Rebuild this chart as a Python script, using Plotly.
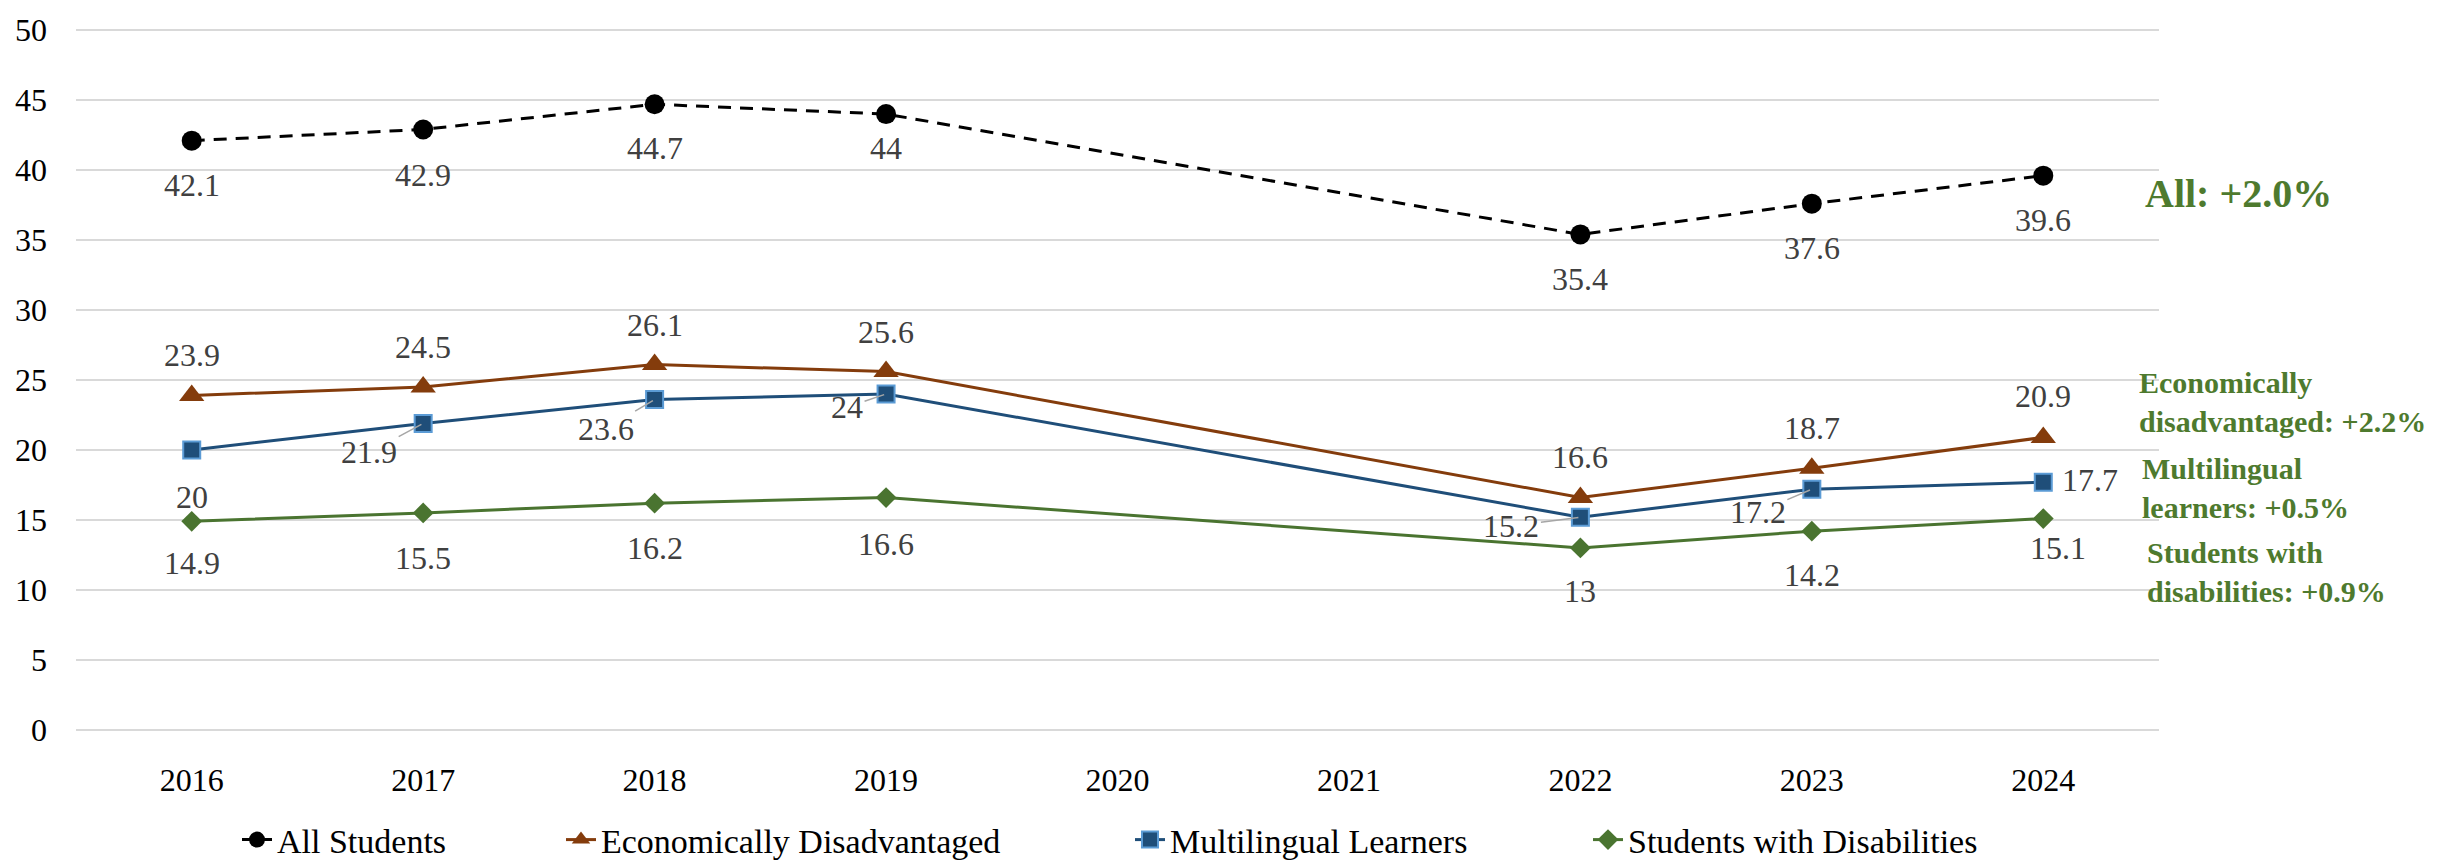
import plotly.graph_objects as go

years = [2016, 2017, 2018, 2019, 2020, 2021, 2022, 2023, 2024]
year_labels = ["2016", "2017", "2018", "2019", "2020", "2021", "2022", "2023", "2024"]
all_students = [42.1, 42.9, 44.7, 44.0, None, None, 35.4, 37.6, 39.6]
econ_disadv = [23.9, 24.5, 26.1, 25.6, None, None, 16.6, 18.7, 20.9]
multilingual = [20.0, 21.9, 23.6, 24.0, None, None, 15.2, 17.2, 17.7]
disabilities = [14.9, 15.5, 16.2, 16.6, None, None, 13.0, 14.2, 15.1]

series_names = ["All Students", "Economically Disadvantaged",
                "Multilingual Learners", "Students with Disabilities"]
change_notes = ["All: +2.0%", "Economically<br>disadvantaged: +2.2%",
                "Multilingual<br>learners: +0.5%", "Students with<br>disabilities: +0.9%"]

FONT = "Liberation Serif, Times New Roman, serif"
GREEN_TXT = "#4E7A2E"

# pixel geometry of plot area
W, H = 2453, 861
L, R = 76, 2159
T, B = 20, 730
PAD = 0.15  # small range padding so the 0 and 50 gridlines are drawn
PPU = (B - T) / 50.0

styles = [
    dict(color="#000000", symbol="circle", size=20, dash="13px,9px", mline=None),
    dict(color="#843C0C", symbol="triangle-up", size=22, dash="solid", mline=None),
    dict(color="#1F4E79", symbol="square", size=17, dash="solid", mline="#5B9BD5"),
    dict(color="#4A7430", symbol="diamond", size=16, dash="solid", mline=None),
]

# label offsets (dx, dy in px, dy positive = down, leader flag)
label_offsets = [
    [(0, 44, 0), (0, 46, 0), (0, 44, 0), (0, 34, 0), None, None, (0, 45, 0), (0, 44, 0), (0, 44, 0)],
    [(0, -40, 0)] * 4 + [None, None] + [(0, -41, 0), (0, -40, 0), (0, -41, 0)],
    [(0, 47, 0), (-54, 29, 1), (-49, 29, 1), (-39, 13, 1), None, None, (-69, 9, 1), (-54, 23, 1), (47, -2, 0)],
    [(0, 42, 0), (0, 45, 0), (0, 45, 0), (0, 46, 0), None, None, (0, 43, 0), (0, 44, 0), (15, 29, 0)],
]

data = [all_students, econ_disadv, multilingual, disabilities]
legend_ids = ["legend", "legend2", "legend3", "legend4"]
legend_text_x = [277, 601, 1170, 1628]

fig = go.Figure()
for i, (vals, name, st) in enumerate(zip(data, series_names, styles)):
    marker = dict(symbol=st["symbol"], size=st["size"], color=st["color"])
    if st["mline"]:
        marker["line"] = dict(color=st["mline"], width=2)
    else:
        marker["line"] = dict(color=st["color"], width=0)
    fig.add_trace(go.Scatter(
        x=years, y=vals, name=name, mode="lines+markers",
        connectgaps=True,
        line=dict(color=st["color"], width=3, dash=st["dash"]),
        marker=marker, legend=legend_ids[i], hoverinfo="skip",
    ))

annotations = []
for vals, offs in zip(data, label_offsets):
    for x, v, off in zip(years, vals, offs):
        if v is None or off is None:
            continue
        dx, dy, leader = off
        txt = f"{v:g}"
        if leader:
            annotations.append(dict(
                x=x, y=v, xref="x", yref="y", text=txt, showarrow=True,
                ax=dx, ay=dy, axref="pixel", ayref="pixel",
                arrowhead=0, arrowwidth=1.5, arrowcolor="#A6A6A6", standoff=2,
                font=dict(family=FONT, size=32, color="#404040"),
            ))
        else:
            annotations.append(dict(
                x=x, y=v, xref="x", yref="y", text=txt, showarrow=False,
                xshift=dx, yshift=-dy,
                font=dict(family=FONT, size=32, color="#404040"),
            ))

note_px = [(2143, 186, 40), (2137, 397.5, 30), (2140, 485, 30), (2145, 570, 30)]
for txt, (px, py, fs) in zip(change_notes, note_px):
    annotations.append(dict(
        x=(px - L) / (R - L), y=(B - py) / PPU, xref="paper", yref="y",
        xanchor="left", yanchor="middle", align="left", showarrow=False,
        text=f"<b>{txt}</b>",
        font=dict(family=FONT, size=fs, color=GREEN_TXT),
    ))

layout_legends = {}
for lid, tx in zip(legend_ids, legend_text_x):
    layout_legends[lid] = dict(
        xref="container", yref="container",
        x=(tx - 40) / W, y=1 - 811 / H, xanchor="left", yanchor="top",
        orientation="h", bgcolor="rgba(0,0,0,0)", borderwidth=0,
        font=dict(family=FONT, size=34, color="#000000"),
        itemclick=False, itemdoubleclick=False,
    )

fig.update_layout(
    width=W, height=H, autosize=False,
    margin=dict(l=L, r=W - R, t=T - PAD * PPU, b=H - B - PAD * PPU, pad=0),
    paper_bgcolor="white", plot_bgcolor="white",
    showlegend=True,
    font=dict(family=FONT, size=32, color="#000000"),
    xaxis=dict(type="linear", range=[2015.5, 2024.5],
               tickmode="array", tickvals=years, ticktext=year_labels,
               showgrid=False, zeroline=False, showline=False, ticks="",
               tickfont=dict(family=FONT, size=32, color="#000000"),
               ticklabelstandoff=26, fixedrange=True),
    yaxis=dict(range=[-PAD, 50 + PAD], dtick=5, tick0=0, showgrid=True,
               gridcolor="#D9D9D9", gridwidth=2, zeroline=False, showline=False,
               ticks="", tickfont=dict(family=FONT, size=32, color="#000000"),
               ticklabelstandoff=28, fixedrange=True),
    annotations=annotations,
    **layout_legends,
)

fig.write_html("out.html",
               config={"displayModeBar": False},
               post_script="document.body.style.margin='0px';document.body.style.overflow='hidden';")
